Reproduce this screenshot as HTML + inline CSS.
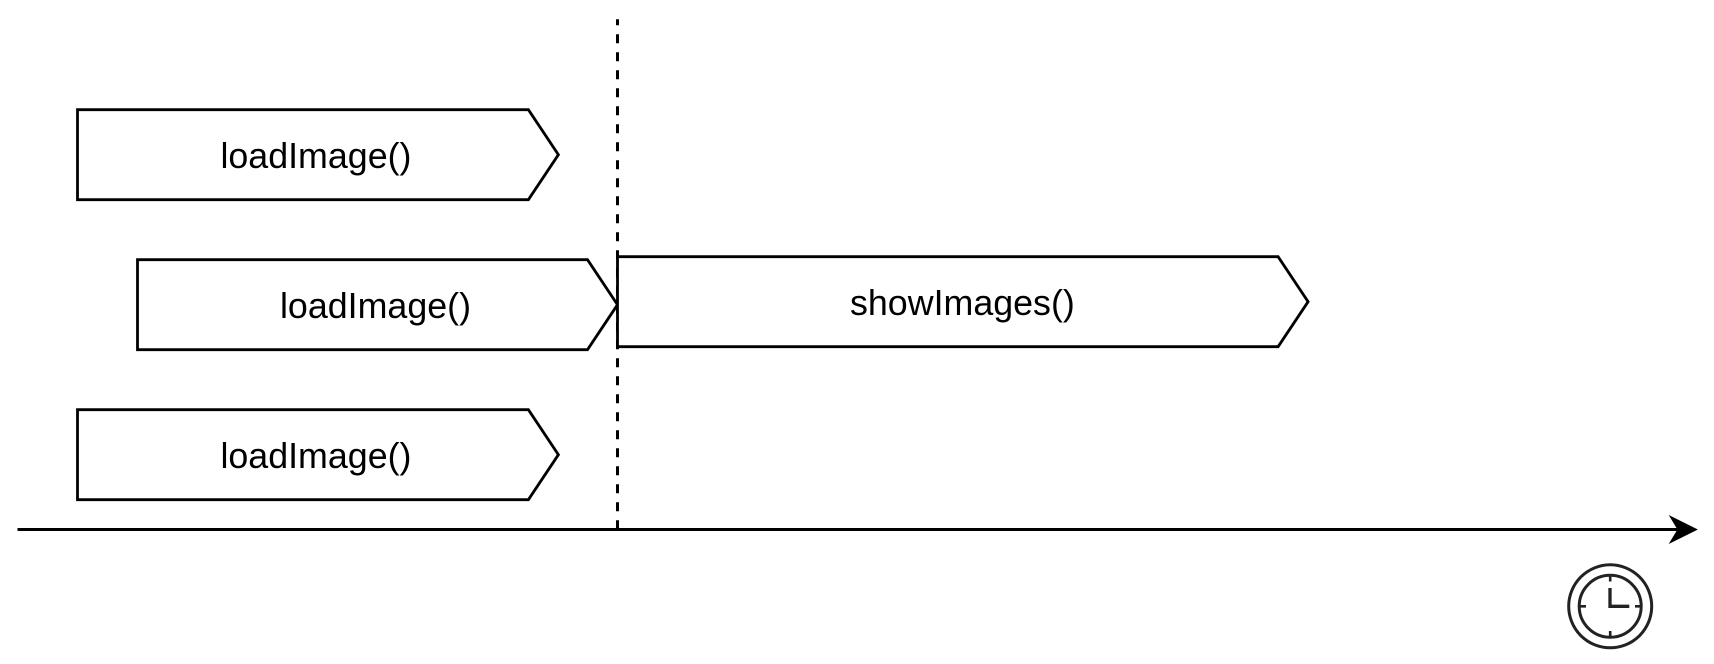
<!DOCTYPE html>
<html lang="en">
<head>
<meta charset="utf-8">
<title>loadImage and showImages timeline</title>
<style>
html,body{margin:0;padding:0;background:#fff;width:1714px;height:664px;overflow:hidden}
svg{display:block}
text{font-family:"Liberation Sans",Arial,sans-serif;font-size:35.8px;fill:#000;text-anchor:middle}
</style>
</head>
<body>
<svg id="diagram" width="1714" height="664" viewBox="0 0 1714 664" xmlns="http://www.w3.org/2000/svg">
  <rect x="0" y="0" width="1714" height="664" fill="#fff"/>
  <line x1="617.5" y1="19.3" x2="617.5" y2="529" stroke="#000" stroke-width="3" stroke-dasharray="9 9" stroke-dashoffset="3"/>
  <g id="tasks"></g>
  <g>
    <line x1="17.5" y1="529.5" x2="1680" y2="529.5" stroke="#000" stroke-width="3"/>
    <path d="M1696.7 529.5 L1670 542.8 L1678 529.5 L1670 516.2 Z" fill="#000" stroke="#000" stroke-width="1"/>
  </g>
  <g fill="none" stroke="#222">
    <circle cx="1610.2" cy="606.3" r="41.5" stroke-width="3"/>
    <circle cx="1610.2" cy="606.3" r="31" stroke-width="3"/>
    <path d="M1610.2 575.5V581.5M1610.2 631V637M1579 606.3H1586M1635 606.3H1641" stroke-width="2.6"/>
    <path d="M1610 588V606.3H1629.3" stroke-width="3.3"/>
  </g>
</svg>
<script>
// Task timing, in time units along the axis, and the lane each task sits in.
var taskLabels = ["loadImage()", "loadImage()", "loadImage()", "showImages()"];
var taskStarts = [0, 1, 0, 9];
var taskEnds = [8.015, 9, 8.015, 20.51];
var taskLanes = [0, 1, 2, 0.98];

function xScale(t) { return 77.5 + 60 * t; }
function yScale(lane) { return 109.7 + 150 * lane; }

var SVG_NS = "http://www.w3.org/2000/svg";
var group = document.getElementById("tasks");
var BLOCK_H = 90, NOTCH = 30;

taskLabels.forEach(function (label, i) {
  var x0 = xScale(taskStarts[i]);
  var x1 = xScale(taskEnds[i]);
  var y0 = yScale(taskLanes[i]);
  var y1 = y0 + BLOCK_H;

  var poly = document.createElementNS(SVG_NS, "polygon");
  poly.setAttribute("points", [
    x0 + "," + y0,
    (x1 - NOTCH) + "," + y0,
    x1 + "," + (y0 + BLOCK_H / 2),
    (x1 - NOTCH) + "," + y1,
    x0 + "," + y1
  ].join(" "));
  poly.setAttribute("fill", "#fff");
  poly.setAttribute("stroke", "#000");
  poly.setAttribute("stroke-width", "2.8");
  
  
  group.appendChild(poly);

  var nudge = label.indexOf("show") === 0 ? -0.4 : -2;
  var text = document.createElementNS(SVG_NS, "text");
  text.setAttribute("x", (x0 + x1) / 2 + nudge);
  text.setAttribute("y", y0 + 58.2);
  
  
  text.textContent = label;
  group.appendChild(text);
});
</script>
</body>
</html>
